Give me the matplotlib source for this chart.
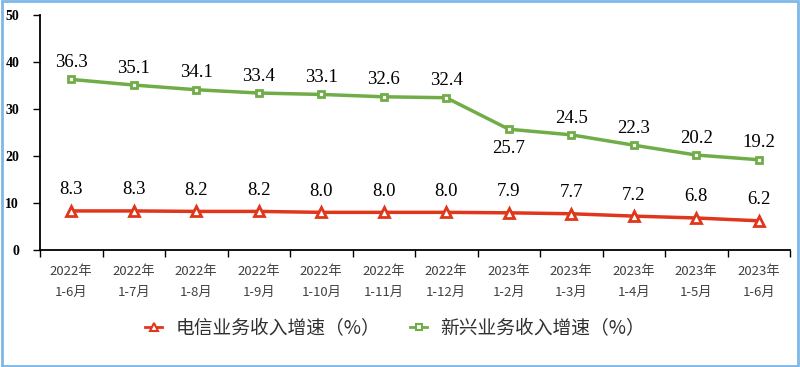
import matplotlib
matplotlib.use("Agg")
import matplotlib.pyplot as plt
from matplotlib.patches import Rectangle
from matplotlib.lines import Line2D

categories = ["2022年\n1-6月", "2022年\n1-7月", "2022年\n1-8月", "2022年\n1-9月", "2022年\n1-10月",
              "2022年\n1-11月", "2022年\n1-12月", "2023年\n1-2月", "2023年\n1-3月", "2023年\n1-4月",
              "2023年\n1-5月", "2023年\n1-6月"]
telecom = [8.3, 8.3, 8.2, 8.2, 8.0, 8.0, 8.0, 7.9, 7.7, 7.2, 6.8, 6.2]
emerging = [36.3, 35.1, 34.1, 33.4, 33.1, 32.6, 32.4, 25.7, 24.5, 22.3, 20.2, 19.2]
series_names = ["电信业务收入增速（%）", "新兴业务收入增速（%）"]
yticks = [0, 10, 20, 30, 40, 50]

red = "#E0361B"
green = "#70AD47"
cjk = ["Noto Sans CJK SC", "DejaVu Sans"]
serif = "Liberation Serif"

fig = plt.figure(figsize=(8, 3.67), dpi=100)
ax = fig.add_axes([0.05, 0.319, 0.9375, 0.64])

x = list(range(len(categories)))
ax.plot(x, telecom, color=red, lw=2.5, marker="^", ms=7, mfc="white", mec=red, mew=2, zorder=3)
ax.plot(x, emerging, color=green, lw=2.5, marker="s", ms=5, mfc="white", mec=green, mew=2, zorder=3)

for i, v in enumerate(telecom):
    ax.annotate(f"{v:.1f}", (i, v), xytext=(0, 9), textcoords="offset points",
                ha="center", va="bottom", fontsize=13.5, family=serif)
for i, v in enumerate(emerging):
    if i == 7:
        ax.annotate(f"{v:.1f}", (i, v), xytext=(0, -8), textcoords="offset points",
                    ha="center", va="top", fontsize=13.5, family=serif)
    else:
        ax.annotate(f"{v:.1f}", (i, v), xytext=(0, 6), textcoords="offset points",
                    ha="center", va="bottom", fontsize=13.5, family=serif)

ax.set_xlim(-0.5, len(categories) - 0.5)
ax.set_ylim(0, 50)
ax.set_yticks(yticks)
ax.set_yticklabels([str(t) for t in yticks], fontsize=10, fontweight="bold", family=serif)
ax.set_xticks([i - 0.5 for i in range(len(categories) + 1)])
ax.set_xticklabels([])
ax.set_xticks(x, minor=True)
ax.set_xticklabels(categories, minor=True, fontsize=9.5, family=cjk, color="#404040", linespacing=1.75)
ax.tick_params(axis="x", which="minor", length=0, pad=11)
ax.tick_params(axis="x", which="major", length=5, direction="out", width=1)
ax.tick_params(axis="y", length=5, direction="out", width=1, pad=10)
for s in ["top", "right"]:
    ax.spines[s].set_visible(False)
ax.spines["left"].set_linewidth(1.3)
ax.spines["bottom"].set_linewidth(1.3)

handles = [Line2D([], [], color=red, lw=2, marker="^", ms=5.5, mfc="white", mec=red, mew=1.5),
           Line2D([], [], color=green, lw=2, marker="s", ms=4.5, mfc="white", mec=green, mew=1.5)]
fig.legend(handles, series_names, loc="center", bbox_to_anchor=(0.494, 0.105), ncol=2, frameon=False,
           prop={"family": cjk, "size": 13.5}, labelcolor="#303030",
           handlelength=0.9, columnspacing=1.6, handletextpad=0.7)

fig.patches.append(Rectangle((0.002, 0.003), 0.996, 0.994, transform=fig.transFigure,
                             fill=False, edgecolor="#7DB8E8", lw=2))

fig.savefig("out.png", dpi=100)
